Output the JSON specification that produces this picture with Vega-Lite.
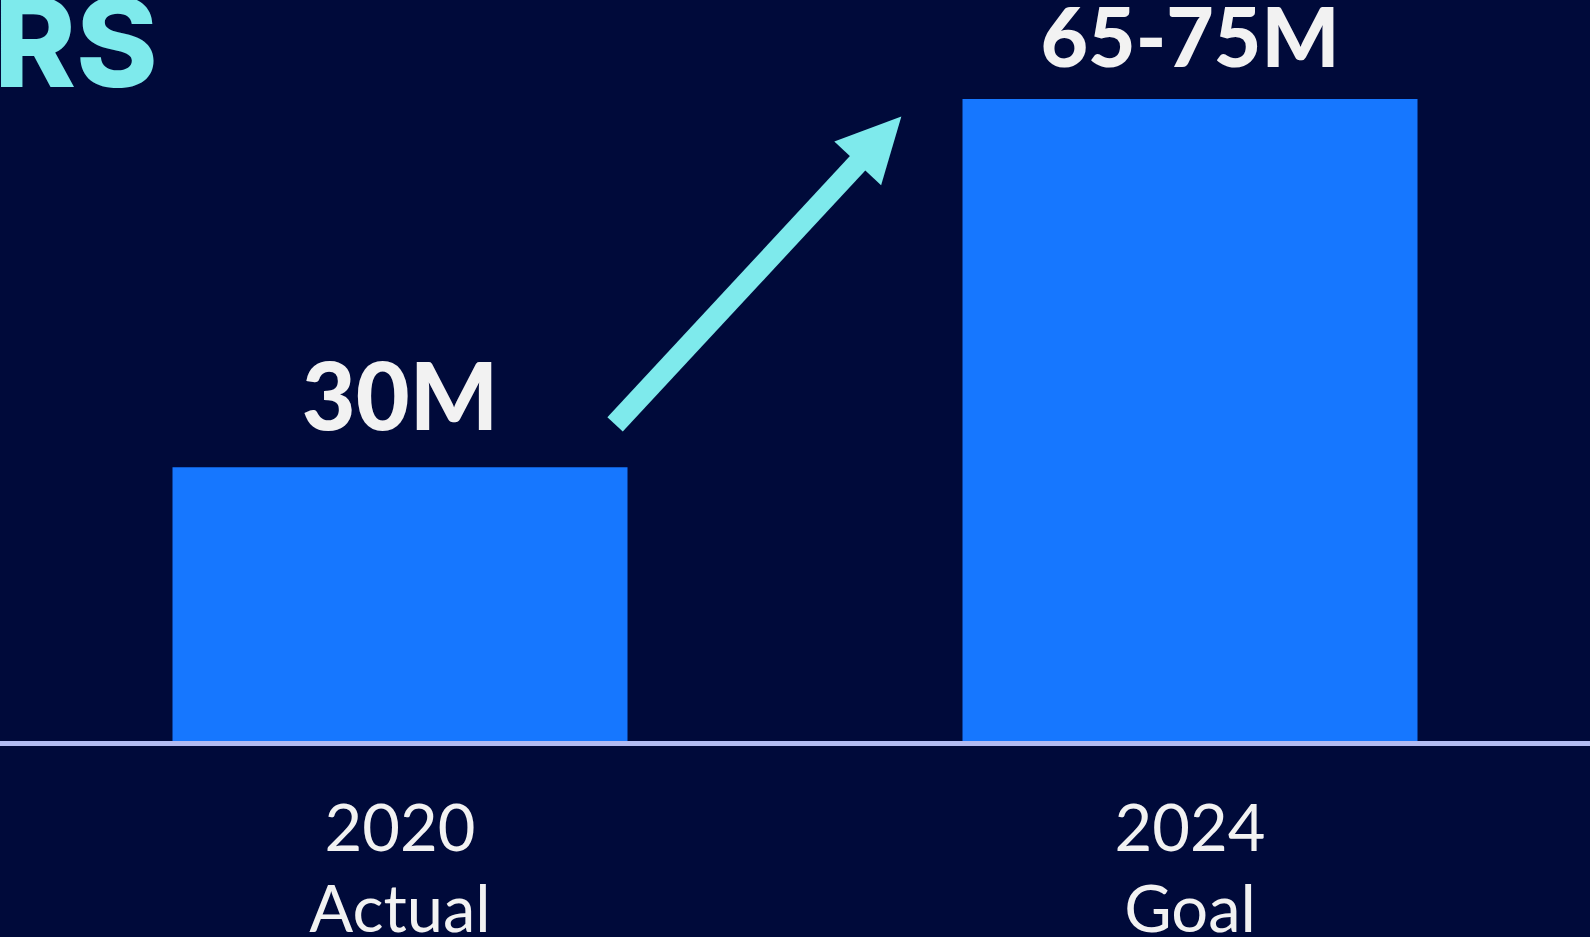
{
  "$schema": "https://vega.github.io/schema/vega-lite/v6.json",
  "width": 1590,
  "height": 937,
  "autosize": "none",
  "padding": 0,
  "background": "#000A3A",
  "config": {"view": {"stroke": null}},
  "datasets": {
    "bars": [
      {"year": 2020, "value": 30, "label": "30M", "line1": "2020", "line2": "Actual"},
      {"year": 2024, "value": 70, "label": "65-75M", "line1": "2024", "line2": "Goal"}
    ],
    "arrow": [
      {"x": 2021.089, "y": 34.65, "x2": 2022.337, "y2": 63.48, "hx": 2022.428, "hy": 65.55}
    ],
    "title": [
      {"x": 2018, "y": 71.3, "text": "RS"}
    ]
  },
  "layer": [
    {
      "data": {"name": "bars"},
      "mark": {"type": "bar", "width": 455, "color": "#1677FF"},
      "encoding": {
        "x": {"field": "year", "type": "quantitative", "scale": {"domain": [2018, 2026], "nice": false, "zero": false}, "axis": null},
        "y": {"field": "value", "type": "quantitative", "scale": {"domain": [-21.02, 80.75], "nice": false, "zero": false}, "axis": null},
        "y2": {"datum": 0}
      }
    },
    {
      "data": {"name": "bars"},
      "mark": {"type": "rule", "color": "#B3BCF2", "strokeWidth": 5},
      "encoding": {
        "y": {"datum": 0, "type": "quantitative"}
      }
    },
    {
      "data": {"name": "bars"},
      "transform": [{"filter": "datum.year == 2020"}],
      "mark": {"type": "text", "font": "Lato", "fontWeight": 900, "fontSize": 93, "color": "#F2F2F2", "align": "center", "baseline": "alphabetic", "dy": -37},
      "encoding": {
        "x": {"field": "year", "type": "quantitative"},
        "y": {"field": "value", "type": "quantitative"},
        "text": {"field": "label"}
      }
    },
    {
      "data": {"name": "bars"},
      "transform": [{"filter": "datum.year == 2024"}],
      "mark": {"type": "text", "font": "Lato", "fontWeight": 900, "fontSize": 82, "color": "#F2F2F2", "align": "center", "baseline": "alphabetic", "dy": -32},
      "encoding": {
        "x": {"field": "year", "type": "quantitative"},
        "y": {"field": "value", "type": "quantitative"},
        "text": {"field": "label"}
      }
    },
    {
      "data": {"name": "bars"},
      "mark": {"type": "text", "font": "Lato", "fontSize": 65, "color": "#F2F2F2", "align": "center", "baseline": "alphabetic"},
      "encoding": {
        "x": {"field": "year", "type": "quantitative"},
        "y": {"datum": -11.68, "type": "quantitative"},
        "text": {"field": "line1"}
      }
    },
    {
      "data": {"name": "bars"},
      "mark": {"type": "text", "font": "Lato", "fontSize": 65, "color": "#F2F2F2", "align": "center", "baseline": "alphabetic"},
      "encoding": {
        "x": {"field": "year", "type": "quantitative"},
        "y": {"datum": -20.47, "type": "quantitative"},
        "text": {"field": "line2"}
      }
    },
    {
      "data": {"name": "arrow"},
      "mark": {"type": "rule", "color": "#7EEAEC", "strokeWidth": 21, "strokeCap": "butt"},
      "encoding": {
        "x": {"field": "x", "type": "quantitative"},
        "y": {"field": "y", "type": "quantitative"},
        "x2": {"field": "x2"},
        "y2": {"field": "y2"}
      }
    },
    {
      "data": {"name": "arrow"},
      "mark": {"type": "point", "shape": "M0,-1L1,1L-1,1Z", "size": 4096, "angle": 43, "filled": true, "color": "#7EEAEC", "opacity": 1, "strokeWidth": 0},
      "encoding": {
        "x": {"field": "hx", "type": "quantitative"},
        "y": {"field": "hy", "type": "quantitative"}
      }
    },
    {
      "data": {"name": "title"},
      "mark": {"type": "text", "font": "Inter", "fontWeight": 800, "fontSize": 124, "color": "#7EEAEC", "align": "left", "baseline": "alphabetic", "dx": -11},
      "encoding": {
        "x": {"field": "x", "type": "quantitative"},
        "y": {"field": "y", "type": "quantitative"},
        "text": {"field": "text"}
      }
    }
  ]
}
